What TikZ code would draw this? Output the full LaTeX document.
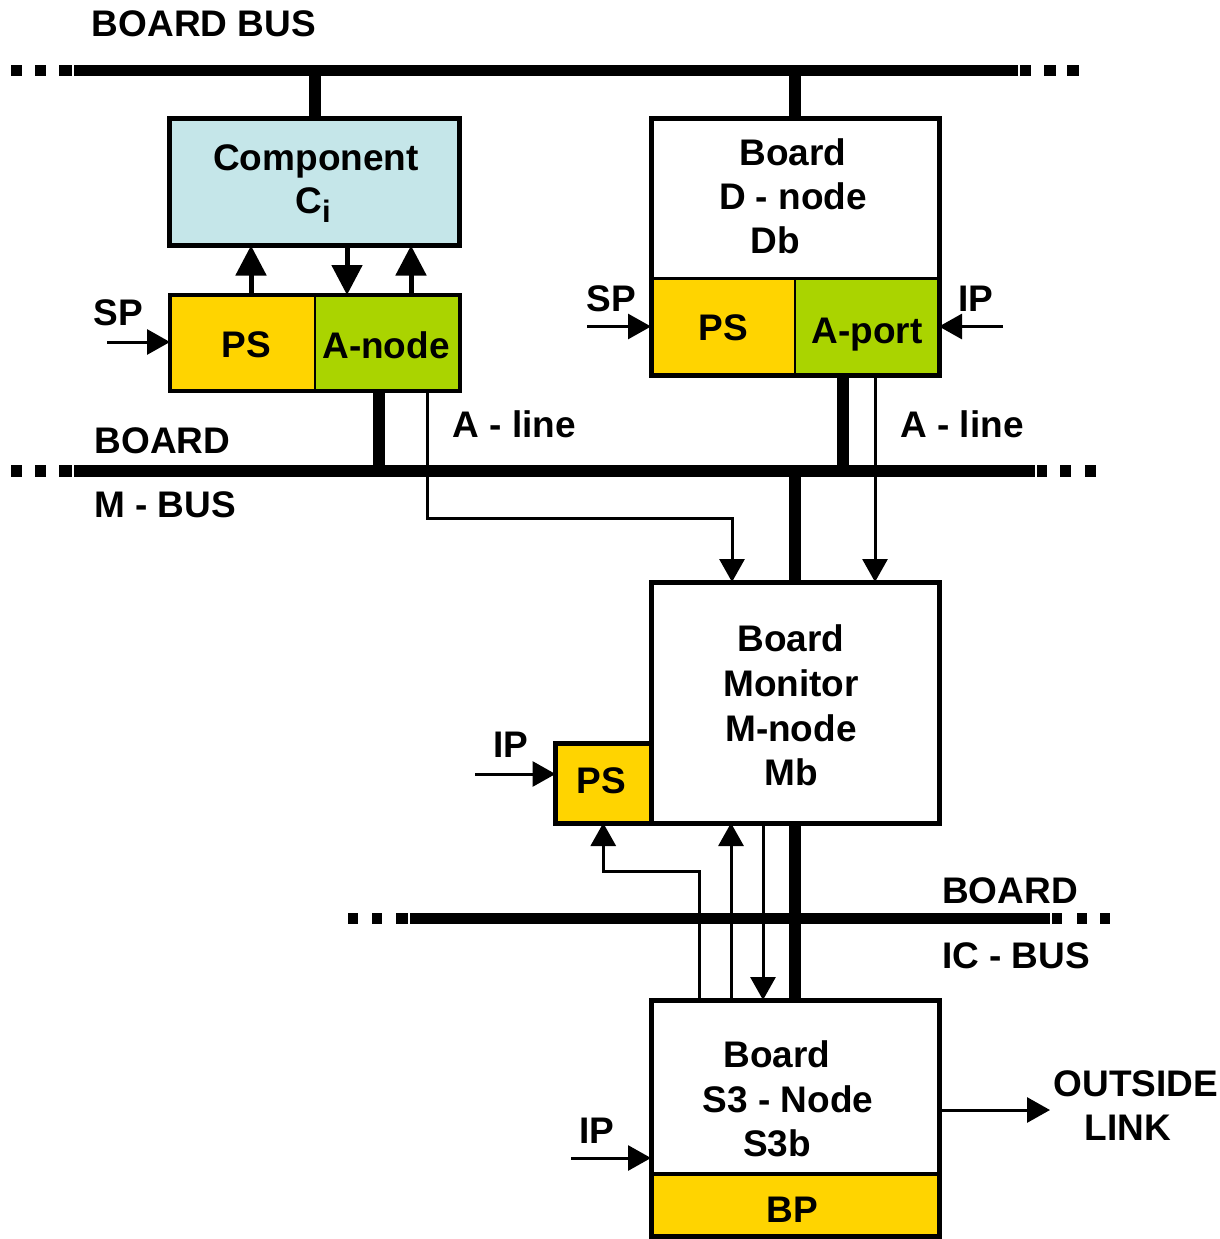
\documentclass[tikz,border=0pt]{standalone}
\usepackage{fontspec}
\setmainfont{Liberation Sans}
\usetikzlibrary{arrows.meta}
\definecolor{compblue}{RGB}{197,230,233}
\definecolor{psyellow}{RGB}{255,212,0}
\definecolor{agreen}{RGB}{170,212,0}
\begin{document}
\begin{tikzpicture}[x=1pt,y=-1pt,
  lbl/.style={font=\fontsize{37}{44}\selectfont\bfseries, inner sep=0pt, anchor=base},
  region/.style={inner sep=0pt, outer sep=0pt},
  stub/.style={line width=12pt},
  sig/.style={line width=3pt, -{Triangle[length=23pt,width=25pt]}},
  bigsig/.style={line width=5pt, -{Triangle[length=30pt,width=30pt]}}]
\useasboundingbox (0,0) rectangle (1220,1239);

% ---------- buses ----------
\coordinate (tb) at (0,70.5);
\coordinate (b2) at (0,471);
\coordinate (b3) at (0,918.5);
% top bus
\fill (11,65) rectangle (22,76);
\fill (35,65) rectangle (46,76);
\fill (59,65) rectangle (72,76);
\fill (74,65) rectangle (1018,76);
\fill (1020,65) rectangle (1031,76);
\fill (1044,65) rectangle (1056,76);
\fill (1067,65) rectangle (1079,76);
% board m-bus
\fill (11,465) rectangle (22,477);
\fill (35,465) rectangle (46,477);
\fill (59,465) rectangle (72,477);
\fill (74,465) rectangle (1035,477);
\fill (1037,465) rectangle (1047,477);
\fill (1060,465) rectangle (1071,477);
\fill (1085,465) rectangle (1096,477);
% board ic-bus
\fill (348,913) rectangle (358,924);
\fill (372,913) rectangle (382,924);
\fill (396,913) rectangle (408,924);
\fill (410,913) rectangle (1050,924);
\fill (1052,913) rectangle (1062,924);
\fill (1077,913) rectangle (1087,924);
\fill (1100,913) rectangle (1110,924);

% ---------- boxes ----------
\node[region, draw, line width=5pt, fill=compblue, minimum width=290pt, minimum height=127pt] (comp) at (314.5,182) {};
\node[region, fill=psyellow, minimum width=145pt, minimum height=96pt] (ps1) at (242.5,343) {};
\node[region, fill=agreen, minimum width=145pt, minimum height=96pt] (anode) at (387.5,343) {};
\draw[line width=4pt] (ps1.north west) rectangle (anode.south east);
\draw[line width=2pt] (ps1.north east) -- (ps1.south east);

\node[region, fill=white, minimum width=288pt, minimum height=159.5pt] (dnode) at (795,198.25) {};
\node[region, fill=psyellow, minimum width=144pt, minimum height=97pt] (ps2) at (723,326.5) {};
\node[region, fill=agreen, minimum width=144pt, minimum height=97pt] (aport) at (867,326.5) {};
\draw[line width=5pt] (dnode.north west) rectangle (aport.south east);
\draw[line width=3pt] (dnode.south west) -- (dnode.south east);
\draw[line width=2pt] (ps2.north east) -- (ps2.south east);

\node[region, draw, line width=5pt, fill=psyellow, minimum width=95.5pt, minimum height=79.5pt] (ps3) at (603.25,783.25) {};
\node[region, draw, line width=5pt, fill=white, minimum width=288pt, minimum height=241pt] (mon) at (795,702.5) {};

\node[region, fill=white, minimum width=288pt, minimum height=174pt] (s3) at (795,1087) {};
\node[region, fill=psyellow, minimum width=288pt, minimum height=62pt] (bp) at (795,1205) {};
\draw[line width=5pt] (s3.north west) rectangle (bp.south east);
\draw[line width=4pt] (s3.south west) -- (s3.south east);

% ---------- thick connectors ----------
\draw[stub] (comp.north) -- (comp.north |- tb);
\draw[stub] (dnode.north) -- (dnode.north |- tb);
\draw[stub] ([xshift=-8.5pt]anode.south) -- ([xshift=-8.5pt]anode.south |- b2);
\draw[stub] ([xshift=-24pt]aport.south) -- ([xshift=-24pt]aport.south |- b2);
\draw[stub] (mon.north) -- (mon.north |- b2);
\draw[stub] (mon.south) -- (s3.north);

% ---------- component <-> PS / A-node ----------
\draw[bigsig] ([xshift=8.5pt]ps1.north) -- ([xshift=8.5pt]ps1.north |- comp.south);
\draw[bigsig] ([xshift=-40.5pt]anode.north |- comp.south) -- ([xshift=-40.5pt]anode.north);
\draw[bigsig] ([xshift=23.5pt]anode.north) -- ([xshift=23.5pt]anode.north |- comp.south);

% ---------- A-lines ----------
\coordinate (aturn) at (0,518);
\coordinate (mA) at ([xshift=-63pt]mon.north);
\draw[sig] ([xshift=39.5pt]anode.south) -- ([xshift=39.5pt]anode.south |- aturn) -- (mA |- aturn) -- (mA);
\draw[sig] ([xshift=8pt]aport.south) -- ([xshift=8pt]aport.south |- mon.north);

% ---------- monitor <-> S3 ----------
\coordinate (pturn) at (0,871);
\coordinate (sA) at ([xshift=-96pt]s3.north);
\draw[sig] (sA) -- (sA |- pturn) -- (ps3.south |- pturn) -- (ps3.south);
\draw[sig] ([xshift=-64pt]s3.north) -- ([xshift=-64pt]s3.north |- mon.south);
\draw[sig] ([xshift=-32pt]mon.south) -- ([xshift=-32pt]mon.south |- s3.north);

% ---------- inputs / outputs ----------
\coordinate (sp1) at (107,342);
\coordinate (sp2) at (587,326.5);
\coordinate (ip2) at (1003,326.5);
\coordinate (ip3) at (475,774);
\coordinate (ip4) at (571,1158);
\coordinate (out) at (1050,1110);
\draw[sig] (sp1) -- (ps1.west |- sp1);
\draw[sig] (sp2) -- (ps2.west);
\draw[sig] (ip2) -- (aport.east);
\draw[sig] (ip3) -- (ps3.west |- ip3);
\draw[sig] (ip4) -- (s3.west |- ip4);
\draw[sig] (s3.east |- out) -- (out);

% ---------- labels ----------
\node[lbl] (tBoardBus) at (204,37) {BOARD BUS};
\node[lbl] (tComp) at (316,170) {Component};
\node[lbl] (tCi) at (313,213) {C\raisebox{-9pt}{\fontsize{31}{31}\selectfont i}};
\node[lbl] (tPS1) at (246.5,357) {PS};
\node[lbl] (tAnode) at (386,358) {A-node};
\node[lbl] (tSP1) at (118.5,325) {SP};
\node[lbl] (tBoard1) at (162.5,453) {BOARD};
\node[lbl] (tMBus) at (165,517) {M - BUS};
\node[lbl] (tAline1) at (514.5,437) {A - line};

\node[lbl] (tD1) at (793,165) {Board};
\node[lbl] (tD2) at (793,209) {D - node};
\node[lbl] (tD3) at (775,253) {Db};
\node[lbl] (tSP2) at (611,311) {SP};
\node[lbl] (tIP2) at (976,311) {IP};
\node[lbl] (tPS2) at (723,340) {PS};
\node[lbl] (tAport) at (867,343) {A-port};
\node[lbl] (tAline2) at (962,437) {A - line};

\node[lbl] (tM1) at (791,651) {Board};
\node[lbl] (tM2) at (791,696) {Monitor};
\node[lbl] (tM3) at (791,741) {M-node};
\node[lbl] (tM4) at (791,785) {Mb};
\node[lbl] (tIP3) at (511,757) {IP};
\node[lbl] (tPS3) at (601.5,793) {PS};

\node[lbl] (tBoard3) at (1010,903) {BOARD};
\node[lbl] (tICBus) at (1016,968) {IC - BUS};

\node[lbl] (tS1) at (777,1067) {Board};
\node[lbl] (tS2) at (788,1112) {S3 - Node};
\node[lbl] (tS3) at (777,1156) {S3b};
\node[lbl] (tBP) at (792.5,1222) {BP};
\node[lbl] (tIP4) at (597,1143) {IP};
\node[lbl] (tOut1) at (1136,1096) {OUTSIDE};
\node[lbl] (tOut2) at (1128,1140) {LINK};
\end{tikzpicture}
\end{document}
